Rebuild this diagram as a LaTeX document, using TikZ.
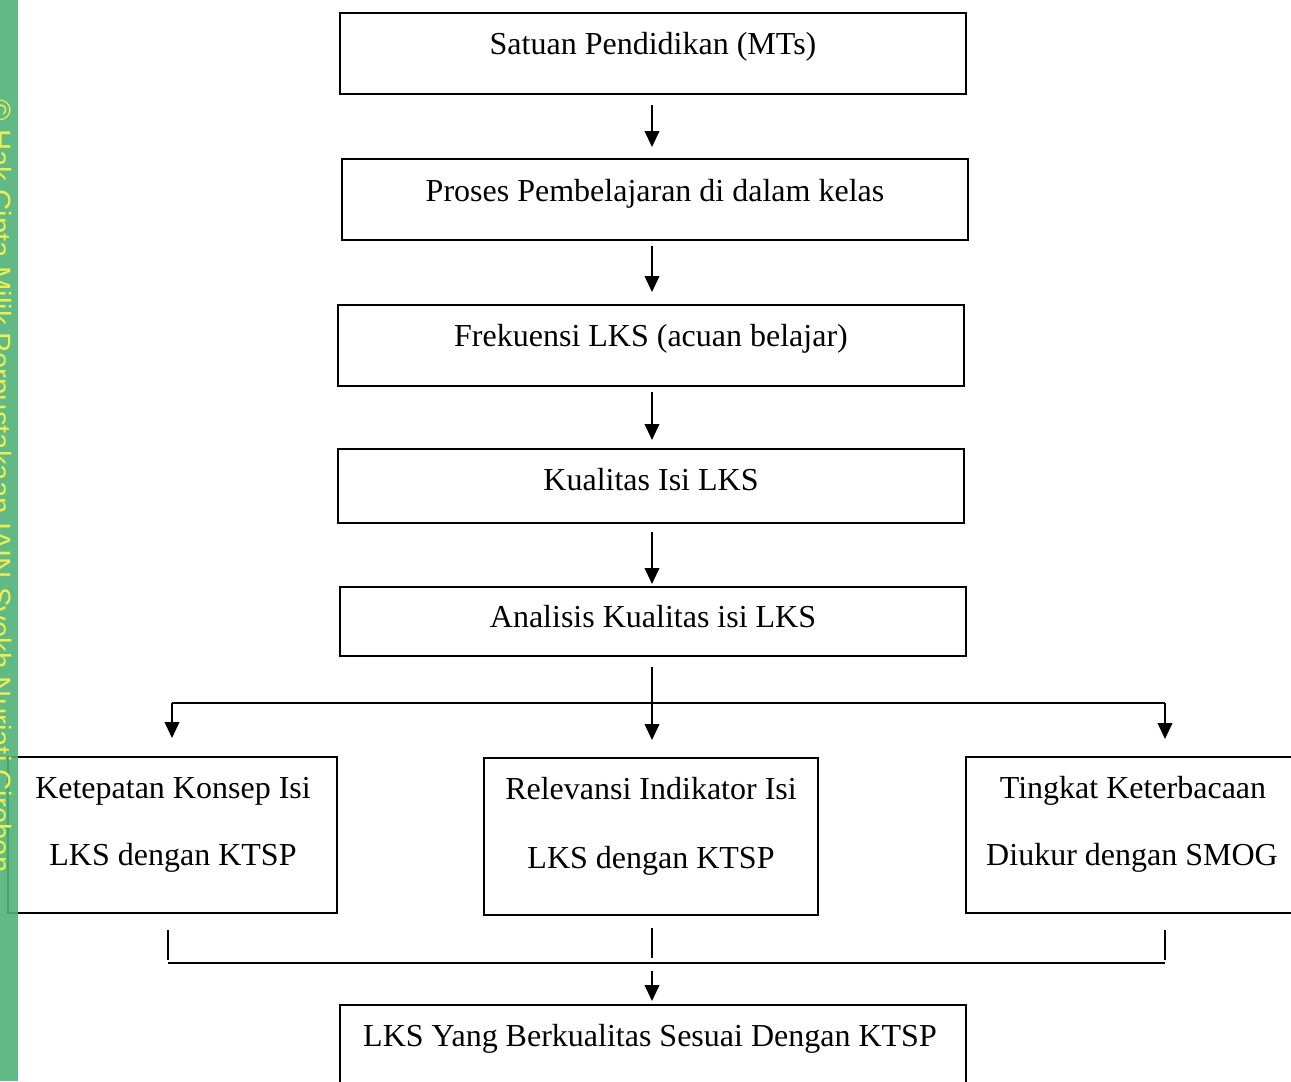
\documentclass[tikz,border=0pt]{standalone}
\usepackage{fontspec}
\setmainfont{Liberation Serif}
\newfontfamily\wmfont{Liberation Sans}
\usetikzlibrary{arrows.meta,fit}
\definecolor{wmgreen}{RGB}{80,178,120}
\definecolor{wmyellow}{RGB}{238,238,80}
\begin{document}
\begin{tikzpicture}[x=0.75pt,y=-0.75pt,
  box/.style={draw,line width=1.4pt,inner sep=0pt},
  txt/.style={font=\fontsize{24}{28}\selectfont,inner sep=0pt,text height=0.66em,text depth=0pt,anchor=center},
  conn/.style={line width=1.3pt},
  arr/.style={line width=1.3pt,-{Triangle[length=12pt,width=11pt]}}]
\useasboundingbox (0,0) rectangle (1291,1081);
\clip (0,0) rectangle (1291,1081);
\fill[white] (0,0) rectangle (1291,1081);
% main column
\node[box,fit={(340,13) (966,94)}] (b1) {};
\node[txt] (t1) at (653,50) {Satuan Pendidikan (MTs)};
\node[box,fit={(342,159) (968,240)}] (b2) {};
\node[txt] (t2) at (655,197) {Proses Pembelajaran di dalam kelas};
\node[box,fit={(338,305) (964,386)}] (b3) {};
\node[txt] (t3) at (651,342) {Frekuensi LKS (acuan belajar)};
\node[box,fit={(338,449) (964,523)}] (b4) {};
\node[txt] (t4) at (651,486) {Kualitas Isi LKS};
\node[box,fit={(340,587) (966,656)}] (b5) {};
\node[txt] (t5) at (653,623) {Analisis Kualitas isi LKS};
% lower boxes
\node[box,fit={(8,757) (337,913)}] (bl) {};
\node[txt] (tl1) at (173,794) {Ketepatan Konsep Isi};
\node[txt] (tl2) at (173,861) {LKS dengan KTSP};
\node[box,fit={(484,758) (818,915)}] (bm) {};
\node[txt] (tm1) at (651,795) {Relevansi Indikator Isi};
\node[txt] (tm2) at (651,864) {LKS dengan KTSP};
\node[box,fit={(966,757) (1310,913)}] (br) {};
\node[txt] (tr1) at (1133,794) {Tingkat Keterbacaan};
\node[txt] (tr2) at (1132,861) {Diukur dengan SMOG};
\node[box,fit={(340,1005) (966,1100)}] (bf) {};
\node[txt] (tf) at (650,1042) {LKS Yang Berkualitas Sesuai Dengan KTSP};
% arrows in column
\coordinate (c1) at (652,105); \coordinate (d1) at (652,147);
\coordinate (c2) at (652,246); \coordinate (d2) at (652,292);
\coordinate (c3) at (652,392); \coordinate (d3) at (652,440);
\coordinate (c4) at (652,532); \coordinate (d4) at (652,584);
\draw[arr] (c1) -- (d1);
\draw[arr] (c2) -- (d2);
\draw[arr] (c3) -- (d3);
\draw[arr] (c4) -- (d4);
% branching
\coordinate (s5) at (652,667);
\coordinate (jl) at (172,703);
\coordinate (jr) at (1165,703);
\coordinate (el) at (172,738);
\coordinate (em) at (652,740);
\coordinate (er) at (1165,739);
\draw[arr] (s5) -- (em);
\draw[conn] (jl) -- (jr);
\draw[arr] (jl) -- (el);
\draw[arr] (jr) -- (er);
% merging
\coordinate (ul) at (168,930); \coordinate (vl) at (168,960);
\coordinate (um) at (652,928); \coordinate (vm) at (652,958);
\coordinate (ur) at (1165,930); \coordinate (vr) at (1165,960);
\draw[conn] (ul) -- (vl);
\draw[conn] (um) -- (vm);
\draw[conn] (ur) -- (vr);
\coordinate (hl) at (168,963); \coordinate (hr) at (1165,963);
\draw[conn] (hl) -- (hr);
\coordinate (af) at (652,971); \coordinate (bfa) at (652,1001);
\draw[arr] (af) -- (bfa);
% watermark stripe
\fill[wmgreen,fill opacity=0.9] (0,0) rectangle (18,1081);
\node[font=\wmfont\fontsize{22}{26}\selectfont,text=wmyellow,rotate=-90,anchor=base,inner sep=0pt] (wm) at (-9,486) {© Hak Cipta Milik Perpustakaan IAIN Syekh Nurjati Cirebon};
\end{tikzpicture}
\end{document}
